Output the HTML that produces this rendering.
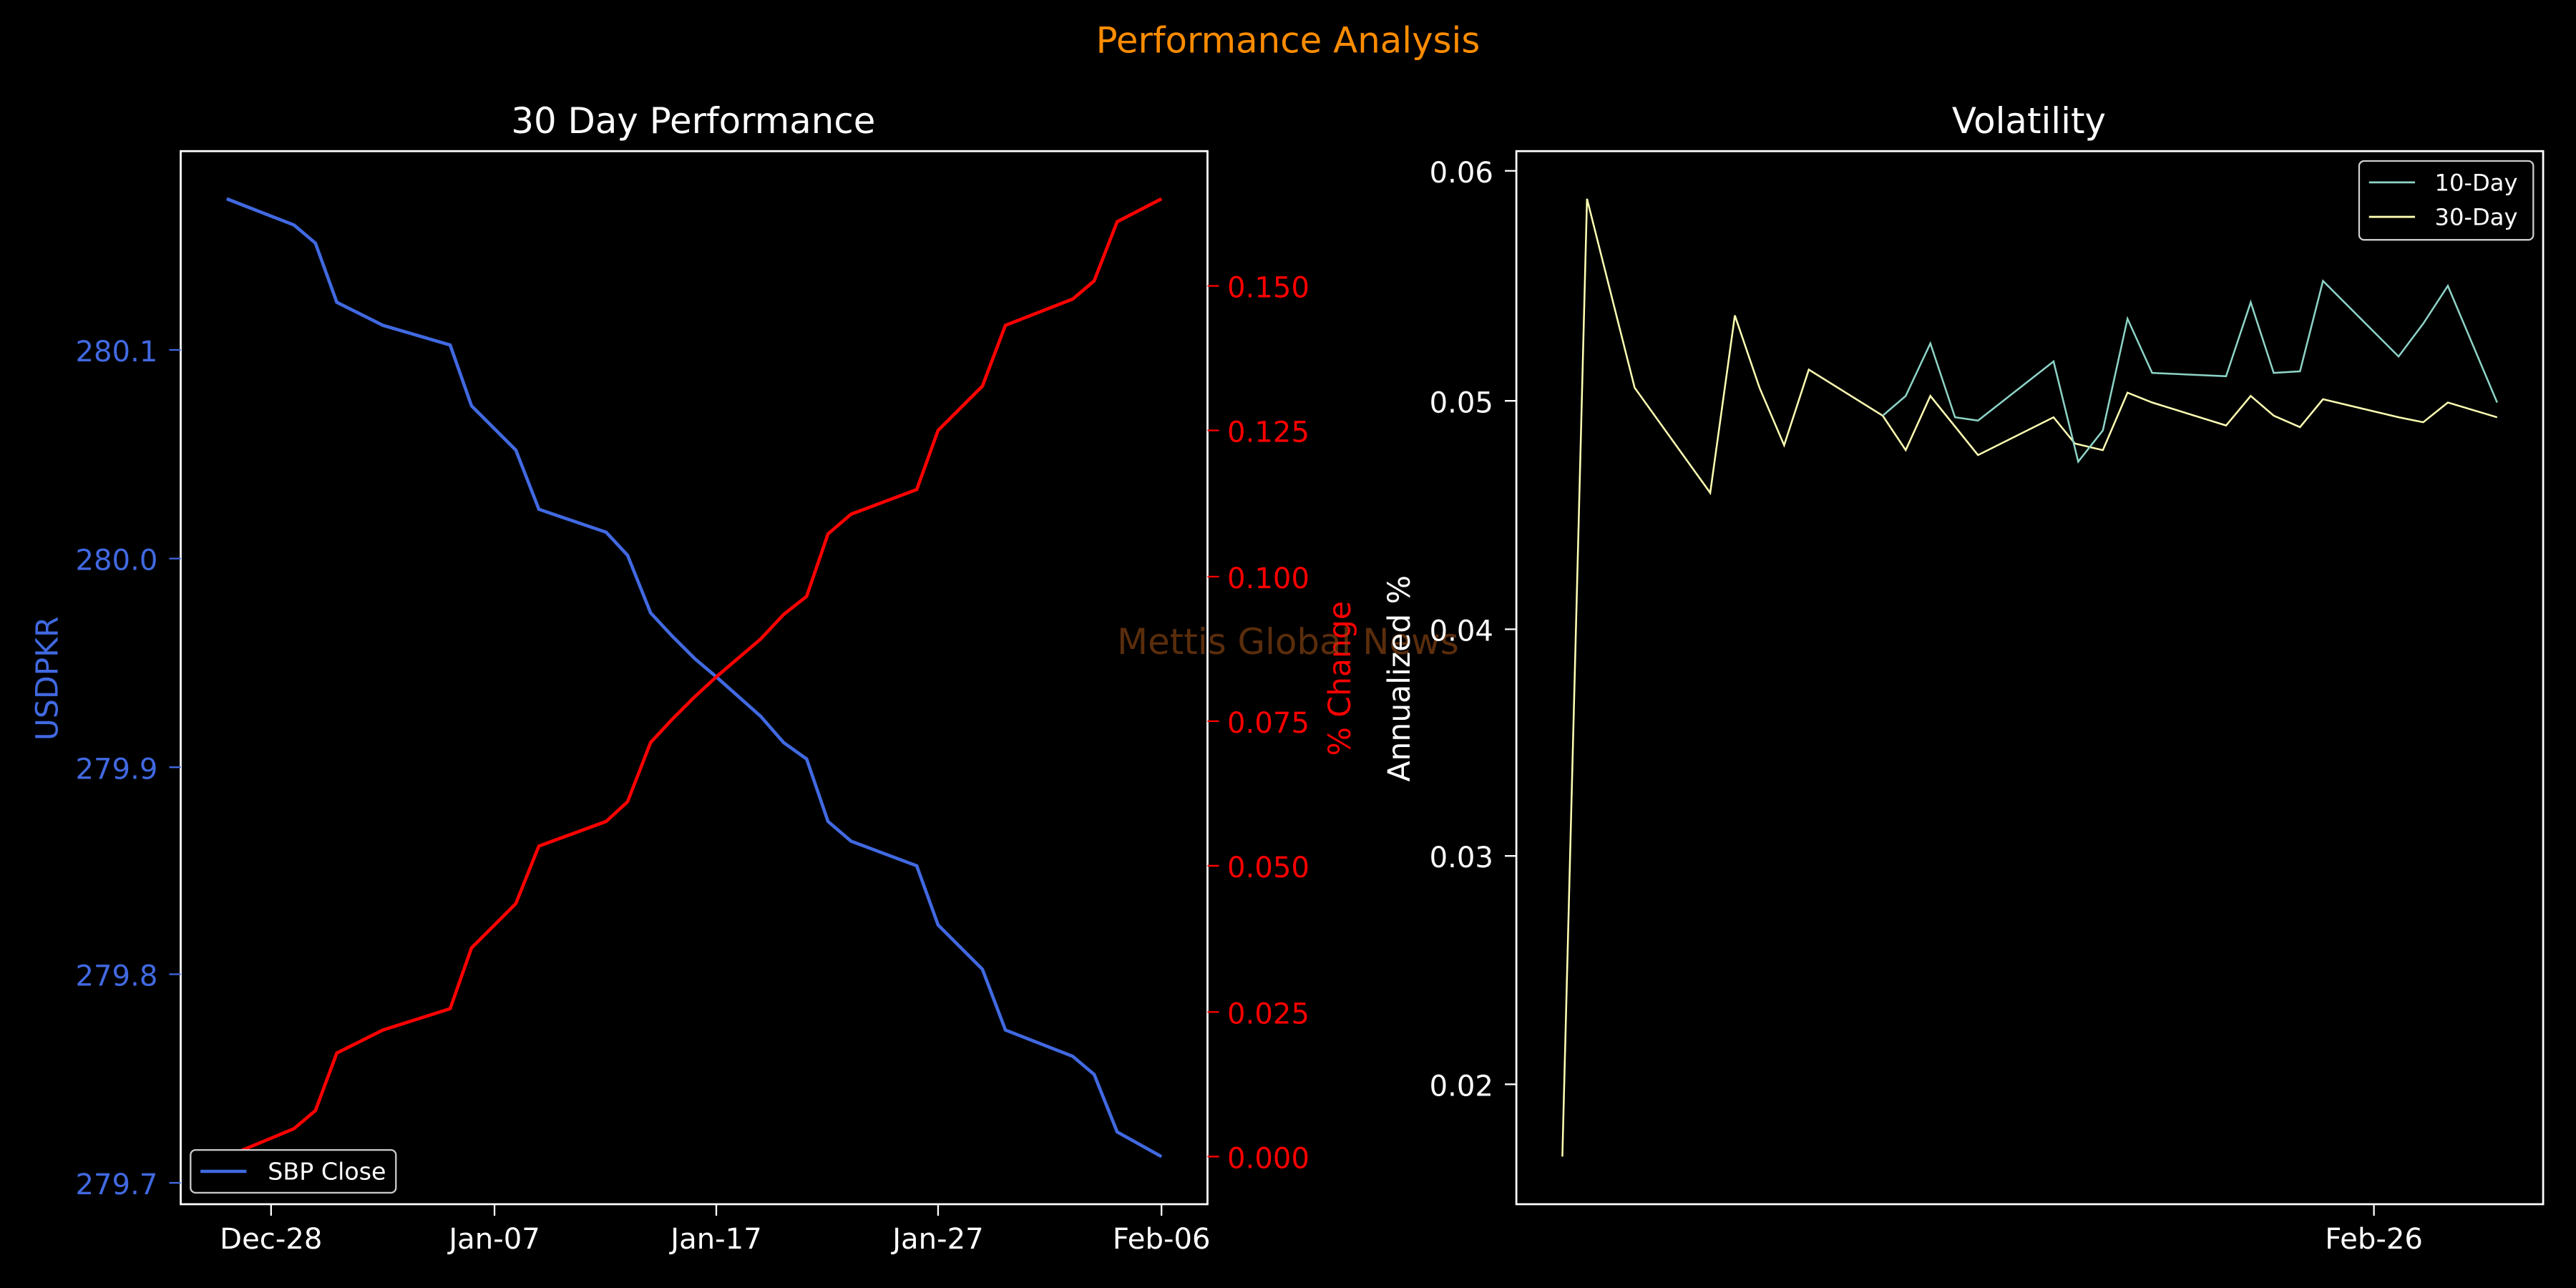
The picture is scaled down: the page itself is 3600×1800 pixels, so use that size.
<!DOCTYPE html>
<html><head><meta charset="utf-8"><style>
html,body{margin:0;padding:0;background:#000;}
svg{display:block;}
text{font-family:"DejaVu Sans","Liberation Sans",sans-serif;}
</style></head><body>
<svg width="3600" height="1800" viewBox="0 0 1568 784" xmlns="http://www.w3.org/2000/svg">
<rect width="1568" height="784" fill="#000"/>
<text x="784" y="32" fill="#ff8c00" font-size="21.7" text-anchor="middle">Performance Analysis</text>

<!-- Left axes -->
<text x="422" y="81" fill="#fff" font-size="21.7" text-anchor="middle">30 Day Performance</text>
<rect x="110" y="92" width="625" height="641" fill="none" stroke="#fff" stroke-width="1.2"/>
<g fill="#4169e1" font-size="17.5" text-anchor="end">
<g stroke="#4169e1" stroke-width="1"><line x1="103" x2="110" y1="213" y2="213"/><line x1="103" x2="110" y1="340" y2="340"/><line x1="103" x2="110" y1="467" y2="467"/><line x1="103" x2="110" y1="593" y2="593"/><line x1="103" x2="110" y1="720" y2="720"/></g>
<text x="96" y="220">280.1</text><text x="96" y="347">280.0</text><text x="96" y="474">279.9</text><text x="96" y="600">279.8</text><text x="96" y="727">279.7</text>
</g>
<text transform="translate(35,413) rotate(-90)" fill="#4169e1" font-size="18.5" text-anchor="middle">USDPKR</text>
<g fill="#ff0000" font-size="17.5">
<g stroke="#ff0000"><line x1="735" x2="742" y1="174" y2="174"/><line x1="735" x2="742" y1="262" y2="262"/><line x1="735" x2="742" y1="351" y2="351"/><line x1="735" x2="742" y1="439" y2="439"/><line x1="735" x2="742" y1="527" y2="527"/><line x1="735" x2="742" y1="616" y2="616"/><line x1="735" x2="742" y1="704" y2="704"/></g>
<text x="747" y="181">0.150</text><text x="747" y="269">0.125</text><text x="747" y="358">0.100</text><text x="747" y="446">0.075</text><text x="747" y="534">0.050</text><text x="747" y="623">0.025</text><text x="747" y="711">0.000</text>
</g>
<text transform="translate(822,413) rotate(-90)" fill="#ff0000" font-size="18.5" text-anchor="middle">% Change</text>
<g fill="#fff" font-size="17.5" text-anchor="middle">
<g stroke="#fff"><line x1="165" x2="165" y1="733" y2="740"/><line x1="301" x2="301" y1="733" y2="740"/><line x1="436" x2="436" y1="733" y2="740"/><line x1="571" x2="571" y1="733" y2="740"/><line x1="707" x2="707" y1="733" y2="740"/></g>
<text x="165" y="760">Dec-28</text><text x="301" y="760">Jan-07</text><text x="436" y="760">Jan-17</text><text x="571" y="760">Jan-27</text><text x="707" y="760">Feb-06</text>
</g>
<polyline fill="none" stroke="#4169e1" stroke-width="2" points="138,121 179,137 192,148 205,184 233,198 274,210 287,247 301,261 314,274 328,310 369,324 382,338 396,373 409,387 423,401 436,412 463,436 477,452 491,462 504,500 518,512 558,527 571,563 598,590 612,627 653,643 666,654 680,689 707,704"/>
<polyline fill="none" stroke="#ff0000" stroke-width="2" points="138,704 179,687 192,676 205,641 233,627 274,614 287,577 301,563 314,550 328,515 369,500 382,488 396,452 409,438 423,424 436,412 463,389 477,374 491,363 504,325 518,313 558,298 571,262 598,235 612,198 653,182 666,171 680,135 707,121"/>
<rect x="116" y="700" width="125" height="26" rx="3" fill="#000" stroke="#ccc" stroke-width="1"/>
<line x1="122" x2="150" y1="713" y2="713" stroke="#4169e1" stroke-width="2"/>
<text x="163" y="718" fill="#fff" font-size="14.5">SBP Close</text>

<text x="784" y="398" fill="#8b4513" fill-opacity="0.65" font-size="21.7" text-anchor="middle">Mettis Global News</text>

<!-- Right axes -->
<text x="1235" y="81" fill="#fff" font-size="21.7" text-anchor="middle">Volatility</text>
<rect x="923" y="92" width="625" height="641" fill="none" stroke="#fff" stroke-width="1.2"/>
<g fill="#fff" font-size="17.5" text-anchor="end">
<g stroke="#fff"><line x1="916" x2="923" y1="104" y2="104"/><line x1="916" x2="923" y1="244" y2="244"/><line x1="916" x2="923" y1="383" y2="383"/><line x1="916" x2="923" y1="521" y2="521"/><line x1="916" x2="923" y1="660" y2="660"/></g>
<text x="909" y="111">0.06</text><text x="909" y="251">0.05</text><text x="909" y="390">0.04</text><text x="909" y="528">0.03</text><text x="909" y="667">0.02</text>
</g>
<text transform="translate(858,413) rotate(-90)" fill="#fff" font-size="18.5" text-anchor="middle">Annualized %</text>
<line x1="1445" x2="1445" y1="733" y2="740" stroke="#fff"/>
<text x="1445" y="760" fill="#fff" font-size="17.5" text-anchor="middle">Feb-26</text>
<polyline fill="none" stroke="#ffffb3" stroke-width="1.1" points="951,704 966,121 995,236 1041,300 1056,192 1071,236 1086,271 1101,225 1146,253 1160,274 1175,241 1204,277 1250,254 1263,270 1280,274 1295,239 1310,245 1355,259 1370,241 1384,253 1400,260 1414,243 1460,254 1475,257 1490,245 1520,254"/>
<polyline fill="none" stroke="#8dd3c7" stroke-width="1.1" points="1146,253 1160,241 1175,209 1190,254 1204,256 1250,220 1265,281 1280,262 1295,194 1310,227 1355,229 1370,184 1384,227 1400,226 1414,171 1460,217 1475,197 1490,174 1520,245"/>
<rect x="1436" y="98" width="106" height="48" rx="3" fill="#000" stroke="#ccc" stroke-width="1"/>
<line x1="1442" x2="1470" y1="111" y2="111" stroke="#8dd3c7" stroke-width="1.2"/>
<text x="1482" y="116" fill="#fff" font-size="14">10-Day</text>
<line x1="1442" x2="1470" y1="132" y2="132" stroke="#ffffb3" stroke-width="1.2"/>
<text x="1482" y="137" fill="#fff" font-size="14">30-Day</text>
</svg>
</body></html>
